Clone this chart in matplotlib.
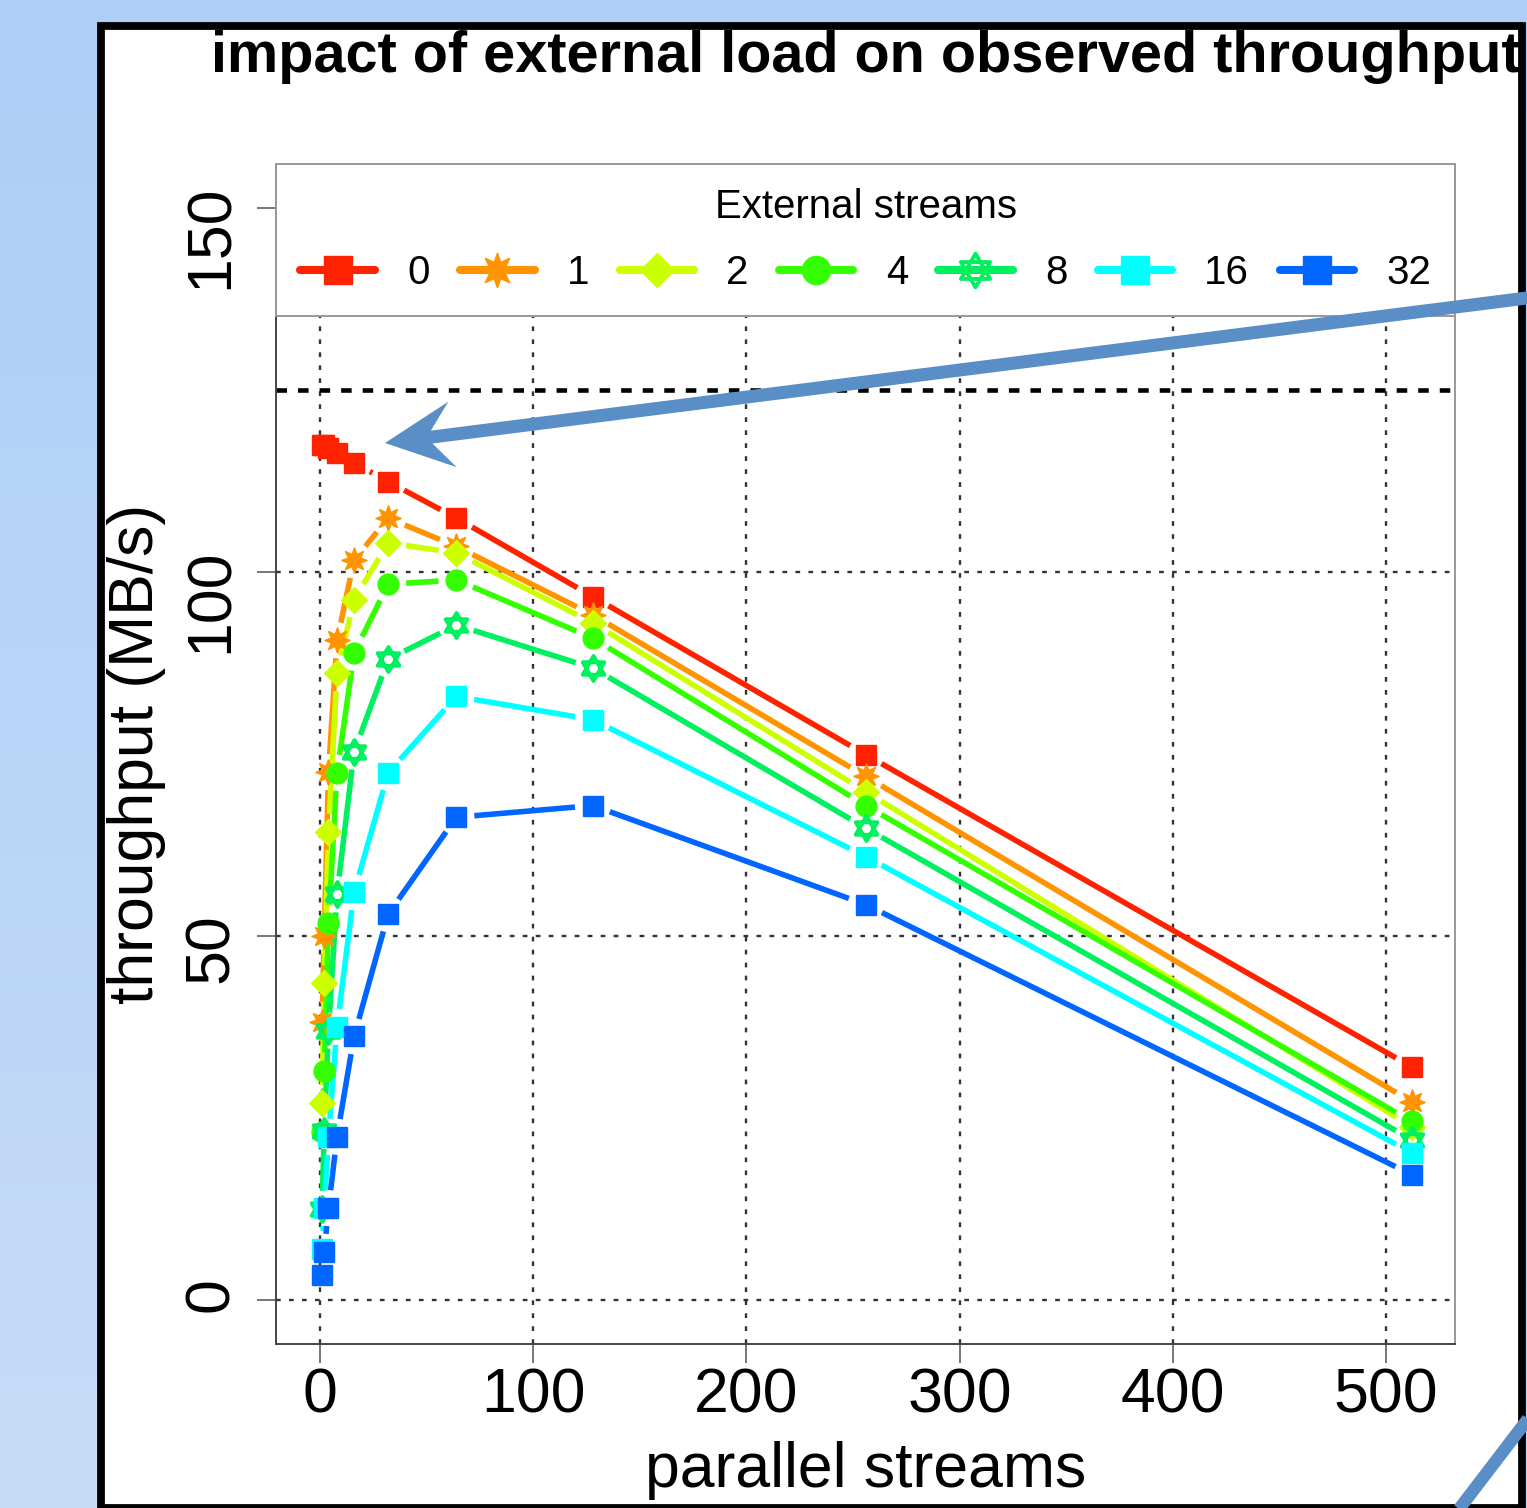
import numpy as np
import matplotlib
matplotlib.use("Agg")
import matplotlib.pyplot as plt
from matplotlib.collections import LineCollection
from matplotlib.colors import LinearSegmentedColormap
from matplotlib.lines import Line2D
from matplotlib.path import Path
import matplotlib.patches as patches

plt.rcParams['font.family'] = ['Liberation Sans', 'DejaVu Sans']

# throughput (MB/s) vs number of parallel streams, one series per external load
streams = [1, 2, 4, 8, 16, 32, 64, 128, 256, 512]
external = ['0', '1', '2', '4', '8', '16', '32']
ext0 = [117.5, 117.4, 117.0, 116.4, 115.0, 112.4, 107.4, 96.6, 74.9, 32.0]
ext1 = [38.2, 50.0, 72.5, 90.6, 101.6, 107.4, 103.5, 94.1, 71.9, 27.2]
ext2 = [27.0, 43.5, 64.3, 86.1, 96.2, 104.0, 102.6, 93.0, 69.8, 23.8]
ext4 = [23.0, 31.5, 51.8, 72.4, 88.9, 98.3, 98.9, 90.9, 67.9, 24.5]
ext8 = [12.5, 23.2, 37.0, 55.7, 75.3, 88.0, 92.7, 86.8, 64.8, 22.0]
ext16 = [7.0, 12.6, 22.4, 37.5, 56.0, 72.4, 82.9, 79.7, 60.9, 20.2]
ext32 = [3.4, 6.6, 12.6, 22.4, 36.2, 53.0, 66.3, 67.9, 54.3, 17.2]
series = [ext0, ext1, ext2, ext4, ext8, ext16, ext32]
line_rate = 125  # 1 Gbit/s

colors = ['#FF2200', '#FF9400', '#CCFF00', '#33FF00', '#00F060', '#00FFFF', '#0066FF']

# hexagram (two overlapping triangles) for the 8-stream series
_c = np.sqrt(3) / 2
hexagram = Path([(0, 1), (-_c, -0.5), (_c, -0.5), (0, 1),
                 (0, -1), (-_c, 0.5), (_c, 0.5), (0, -1)],
                [Path.MOVETO, Path.LINETO, Path.LINETO, Path.CLOSEPOLY] * 2)

marker_styles = [
    dict(marker='s', ms=14.5),
    dict(marker=(8, 1, 0), ms=18.5),
    dict(marker='D', ms=13),
    dict(marker='o', ms=15),
    dict(marker=hexagram, ms=18, mfc='none', mew=2.8),
    dict(marker='s', ms=14.5),
    dict(marker='s', ms=14.5),
]

W, H = 1527, 1508
fig = plt.figure(figsize=(W / 100, H / 100), dpi=100)


def fx(x):
    return x / W


def fy(y):
    return 1 - y / H


# slide background
bg = fig.add_axes([0, 0, 1, 1], zorder=-10)
grad = np.linspace(0, 1, 256).reshape(-1, 1)
bg.imshow(grad, aspect='auto', extent=[0, 1, 0, 1],
          cmap=LinearSegmentedColormap.from_list('bg', ['#AECEF8', '#C6DCF6']))
bg.axis('off')

# white panel with black frame
fig.add_artist(patches.Rectangle((fx(101), fy(1507.5)), fx(1521.5) - fx(101), fy(26) - fy(1507.5),
                                 transform=fig.transFigure, facecolor='white', edgecolor='none',
                                 zorder=-5))
fig.add_artist(patches.Rectangle((fx(101), fy(1507.5)), fx(1521.5) - fx(101), fy(26) - fy(1507.5),
                                 transform=fig.transFigure, facecolor='none', edgecolor='black',
                                 linewidth=5.6, zorder=10))

ax = fig.add_axes([fx(276.3), fy(1343.5), fx(1455.3) - fx(276.3), fy(164.3) - fy(1343.5)], zorder=1)
ax.set_xlim(-20.48, 532.48)
ax.set_ylim(-6, 156)
ax.set_facecolor('none')

ax.set_xticks(range(0, 501, 100))
ax.set_yticks([0, 50, 100, 150])
ax.grid(True, color='#333333', linestyle=(0, (2, 3.5)), linewidth=1.7)
ax.set_axisbelow(True)
ax.tick_params(direction='out', length=13.5, width=1.4, color='#777777', labelsize=45)
ax.tick_params(axis='x', pad=3)
ax.tick_params(axis='y', labelrotation=90, pad=12)
for side in ['left', 'bottom']:
    ax.spines[side].set_color('#444444')
for side in ['top', 'right']:
    ax.spines[side].set_color('#999999')
for s in ax.spines.values():
    s.set_linewidth(1.4)

ax.axhline(line_rate, color='black', linewidth=3.3, linestyle=(0, (2.3, 2.4)), zorder=1.5)


def gapped_segments(ax, x, y, gap):
    # line pieces between points, stopped short of each marker
    pts = ax.transData.transform(np.column_stack([x, y]))
    inv = ax.transData.inverted()
    segs = []
    for p0, p1 in zip(pts[:-1], pts[1:]):
        d = p1 - p0
        dist = np.hypot(d[0], d[1])
        if dist <= 2 * gap:
            continue
        u = d / dist
        segs.append(inv.transform(np.array([p0 + u * gap, p1 - u * gap])))
    return segs


handles = []
for vals, col, mk in zip(series, colors, marker_styles):
    segs = gapped_segments(ax, streams, vals, 18)
    ax.add_collection(LineCollection(segs, colors=col, linewidths=4.0, capstyle='butt', zorder=2),
                      autolim=False)
    ax.plot(streams, vals, linestyle='none', color=col, zorder=3, **mk)
    handles.append(Line2D([], [], color=col, linewidth=5.8, solid_capstyle='round', **mk))

leg = ax.legend(handles, external, title='External streams', ncol=7, mode='expand',
                loc='upper left', bbox_to_anchor=(0, 0, 1, 1), borderaxespad=0,
                fontsize=29, title_fontsize=29, markerscale=1.35, handlelength=1.85,
                handletextpad=0.8, columnspacing=0.6, borderpad=0.6, labelspacing=0.68,
                fancybox=False, framealpha=1, edgecolor='#999999')
leg.get_frame().set_linewidth(1.4)
leg.set_zorder(5)

ax.set_xlabel('parallel streams', fontsize=45)
ax.xaxis.label.set_va('center')
ax.xaxis.set_label_coords(0.5, (1343.5 - 1470) / 1179.2)
ax.set_ylabel('throughput (MB/s)', fontsize=45)
ax.yaxis.label.set_va('center')
ax.yaxis.set_label_coords((136 - 276.3) / 1179.0, 0.5)

fig.text(fx(866), fy(72), 'impact of external load on observed throughput',
         ha='center', va='baseline', fontsize=41.5, fontweight='bold', zorder=2)

# callout arrow pointing at the single-stream peak
arrow_col = '#5A8EC6'
tip = np.array([385.0, 443.0])
tail = np.array([1600.0, 288.7])
u = (tail - tip) / np.hypot(*(tail - tip))
n = np.array([-u[1], u[0]])
shaft, head_len, head_half, notch = 13.0, 68.0, 33.0, 47.0
outline = [tip,
           tip + u * head_len + n * head_half,
           tip + u * notch + n * shaft / 2,
           tail + n * shaft / 2,
           tail - n * shaft / 2,
           tip + u * notch - n * shaft / 2,
           tip + u * head_len - n * head_half]
fig.add_artist(patches.Polygon([(fx(p[0]), fy(p[1])) for p in outline], closed=True,
                               transform=fig.transFigure, facecolor=arrow_col,
                               edgecolor='none', zorder=20))
fig.add_artist(Line2D([fx(1560), fx(1440)], [fy(1377), fy(1534)], transform=fig.transFigure,
                      color=arrow_col, linewidth=9, solid_capstyle='butt', zorder=20))

fig.savefig('out.png', dpi=100)
